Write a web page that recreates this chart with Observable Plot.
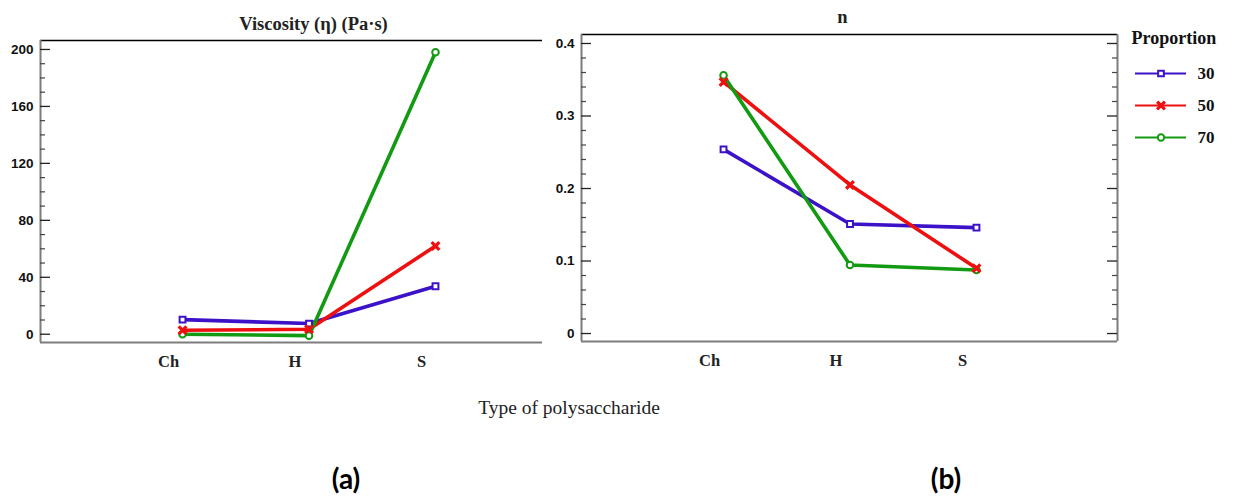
<!DOCTYPE html>
<html>
<head>
<meta charset="utf-8">
<script src="https://cdn.jsdelivr.net/npm/d3@7"></script>
<script src="https://cdn.jsdelivr.net/npm/@observablehq/plot@0.6"></script>
<style>
  body { margin: 0; background: #fff; }
  #page { position: relative; width: 1236px; height: 502px; overflow: hidden; background: #fff; }
  .note { position: absolute; white-space: nowrap; transform: translateX(-50%); }
  .axis-title { font-family: "Liberation Serif", serif; font-size: 19.5px; color: #222; }
  .panel-tag { font-family: Lato, "Open Sans", sans-serif; font-weight: 700; font-size: 28px; color: #000; }
</style>
</head>
<body>
<div id="page"></div>
<script>
// Polysaccharide types on the x axis
const categories = ["Ch", "H", "S"];
// Proportion levels (one line per level)
const proportions = ["30", "50", "70"];

// Viscosity (η) in Pa·s, by proportion, in category order
const viscosity30 = [10.3, 7.5, 33.7];
const viscosity50 = [2.8, 3.5, 62];
const viscosity70 = [0, -1, 198];

// Flow index n, by proportion, in category order
const n30 = [0.254, 0.151, 0.146];
const n50 = [0.347, 0.205, 0.090];
const n70 = [0.356, 0.0945, 0.0876];

// Labelled ticks on each value axis
const viscosityTicks = [0, 40, 80, 120, 160, 200];
const nTicks = [0, 0.1, 0.2, 0.3, 0.4];

const colors = ["#3c12c8", "#ee1010", "#139a13"];
const symbols = ["square", "times", "circle"];
const axisGray = "#7d7d7d";
const serif = "'Liberation Serif', serif";

function rowsOf(series) {
  return proportions.flatMap((p, k) =>
    categories.map((c, i) => ({p, i, c, v: series[k][i]}))
  );
}

function panel(o) {
  const rows = rowsOf(o.series);
  const fw = o.width - o.marginLeft - o.marginRight;
  const step = o.ticks[1] - o.ticks[0];
  const minor = d3.range(o.ticks[0], o.ticks[o.ticks.length - 1] + step / 10, step / o.subdivisions)
    .filter((d) => !o.ticks.some((t) => Math.abs(t - d) < step / 100));
  const marks = [
    // frame edges
    Plot.ruleY([o.yDomain[1]], {stroke: "#000", strokeWidth: 1.5}),
    Plot.ruleY([o.yDomain[0]], {stroke: axisGray, strokeWidth: 2}),
    Plot.ruleX([o.xDomain[0]], {stroke: axisGray, strokeWidth: 2}),
    // inward ticks on the left axis
    Plot.tickY(o.ticks, {y: (d) => d, insetRight: fw - 10, stroke: "#222", strokeWidth: 1.3}),
    Plot.tickY(minor, {y: (d) => d, insetRight: fw - 5, stroke: "#444", strokeWidth: 1.2}),
    Plot.axisY({
      ticks: o.ticks, tickSize: 0, tickPadding: 7, tickFormat: o.tickFormat, label: null,
      fontSize: 13.5, fontWeight: "bold", fill: "#111"
    }),
    Plot.axisX({
      ticks: [0, 1, 2], tickFormat: (i) => categories[i], tickSize: 0, tickPadding: 13, dx: -14,
      label: null, fontFamily: serif, fontSize: 16.5, fontWeight: "bold", fill: "#222"
    }),
    Plot.text([o.title], {
      frameAnchor: "top", lineAnchor: "bottom", dx: o.titleDx, dy: o.titleDy,
      fontFamily: serif, fontSize: 18.5, fontWeight: "bold", fill: "#222"
    })
  ];
  if (o.rightBorder) {
    marks.push(
      Plot.ruleX([o.xDomain[1]], {stroke: axisGray, strokeWidth: 2}),
      Plot.tickY(o.ticks, {y: (d) => d, insetLeft: fw - 10, stroke: "#222", strokeWidth: 1.3}),
      Plot.tickY(minor, {y: (d) => d, insetLeft: fw - 5, stroke: "#444", strokeWidth: 1.2})
    );
  }
  marks.push(
    Plot.line(rows, {x: "i", y: "v", z: "p", stroke: "p", strokeWidth: 3.6}),
    Plot.dot(rows, {
      filter: (d) => d.p !== "50", x: "i", y: "v", symbol: "p", stroke: "p",
      fill: "white", r: 3.3, strokeWidth: 2
    }),
    Plot.dot(rows, {
      filter: (d) => d.p === "50", x: "i", y: "v", symbol: "p", stroke: "p",
      r: 3.6, strokeWidth: 3.2
    })
  );
  const svg = Plot.plot({
    width: o.width,
    height: o.height,
    marginLeft: o.marginLeft,
    marginRight: o.marginRight,
    marginTop: o.marginTop,
    marginBottom: o.marginBottom,
    x: {domain: o.xDomain},
    y: {domain: o.yDomain},
    color: {domain: proportions, range: colors},
    symbol: {domain: proportions, range: symbols},
    style: {fontFamily: "'Liberation Sans', Arial, sans-serif", background: "transparent", overflow: "visible"},
    marks
  });
  svg.style.position = "absolute";
  svg.style.left = o.left + "px";
  svg.style.top = o.top + "px";
  return svg;
}

const page = document.getElementById("page");

page.appendChild(panel({
  series: [viscosity30, viscosity50, viscosity70],
  ticks: viscosityTicks, subdivisions: 4, tickFormat: (d) => d3.format("d")(d),
  title: "Viscosity (η) (Pa·s)", titleDx: 22, titleDy: -11,
  xDomain: [-1.123, 2.846], yDomain: [-5.8, 206.3],
  left: 0, top: 0, width: 560, height: 382,
  marginLeft: 40, marginRight: 18, marginTop: 40, marginBottom: 40,
  rightBorder: false
}));

page.appendChild(panel({
  series: [n30, n50, n70],
  ticks: nTicks, subdivisions: 5, tickFormat: (d) => (d === 0 ? "0" : d3.format(".1f")(d)),
  title: "n", titleDx: -7, titleDy: -12,
  xDomain: [-1.123, 3.115], yDomain: [-0.011, 0.4124],
  left: 541, top: 0, width: 586, height: 381,
  marginLeft: 40, marginRight: 10, marginTop: 34, marginBottom: 40,
  rightBorder: true
}));

// Legend: one sample line with its marker per proportion
const legend = Plot.plot({
  width: 111,
  height: 130,
  marginLeft: 10,
  marginRight: 50,
  marginTop: 53,
  marginBottom: 13,
  y: {type: "point", domain: proportions, padding: 0, axis: null},
  color: {domain: proportions, range: colors},
  symbol: {domain: proportions, range: symbols},
  style: {fontFamily: serif, background: "transparent", overflow: "visible"},
  marks: [
    Plot.text(["Proportion"], {
      frameAnchor: "top-left", textAnchor: "start", lineAnchor: "bottom", dx: -4, dy: -30,
      fontSize: 18, fontWeight: "bold", fill: "#111"
    }),
    Plot.ruleY(proportions, {y: (d) => d, stroke: (d) => d, strokeWidth: 2}),
    Plot.dot(proportions.filter((d) => d !== "50"), {
      y: (d) => d, frameAnchor: "middle", symbol: (d) => d, stroke: (d) => d,
      fill: "white", r: 3.2, strokeWidth: 2
    }),
    Plot.dot(["50"], {
      y: (d) => d, frameAnchor: "middle", symbol: (d) => d, stroke: (d) => d,
      r: 3.6, strokeWidth: 3.2
    }),
    Plot.text(proportions, {
      y: (d) => d, frameAnchor: "right", textAnchor: "start", dx: 11,
      fontSize: 17, fontWeight: "bold", fill: "#111"
    })
  ]
});
legend.style.position = "absolute";
legend.style.left = "1125px";
legend.style.top = "20px";
page.appendChild(legend);

// Shared axis title and panel tags
function note(text, cls, x, y) {
  const el = document.createElement("div");
  el.className = "note " + cls;
  el.textContent = text;
  el.style.left = x + "px";
  el.style.top = y + "px";
  page.appendChild(el);
}
note("Type of polysaccharide", "axis-title", 569, 397);
note("(a)", "panel-tag", 346, 461);
note("(b)", "panel-tag", 946, 461);
</script>
</body>
</html>
